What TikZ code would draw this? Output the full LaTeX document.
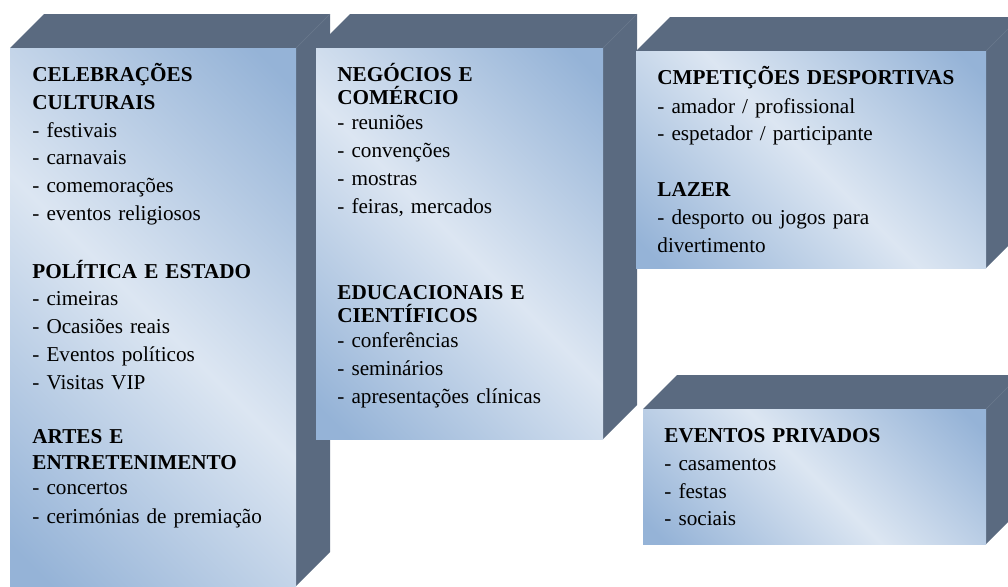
\documentclass[tikz,border=0pt]{standalone}
\usepackage{fontspec}
\setmainfont{Liberation Serif}
\definecolor{sidegray}{HTML}{5A6A80}
\definecolor{faceblue}{HTML}{95B3D7}
\definecolor{facelight}{HTML}{DCE6F2}
\pgfdeclarehorizontalshading{facegrad}{100bp}{color(0bp)=(faceblue); color(18bp)=(faceblue); color(50bp)=(facelight); color(82bp)=(faceblue); color(100bp)=(faceblue)}

\begin{document}
\begin{tikzpicture}[x=0.5pt,y=-0.5pt,
    side/.style={fill=sidegray},
    edge/.style={draw=sidegray!90!white,line width=0.3pt},
    face/.style={shading=facegrad,shading angle=45},
    txt/.style={anchor=base west,inner sep=0pt,text width=#1,align=left,
      font=\fontsize{10.6}{13.9}\selectfont}]
\useasboundingbox (0,0) rectangle (1008,586);
\clip (0,0) rectangle (1008,586);
% box on the left: top and side, then the front
\fill[side] (10,48) -- (44,14) -- (330,14) -- (330,552) -- (296,586) -- (296,48) -- cycle;
\draw[edge] (296,48) -- (330,14);
\fill[face] (10,48) rectangle (296,586);
% box in the middle
\fill[side] (316,48) -- (350,14) -- (637,14) -- (637,405) -- (603,439) -- (603,48) -- cycle;
\draw[edge] (603,48) -- (637,14);
\fill[face] (316,48) rectangle (603,439);
% box at the top right, its side runs off the page
\fill[side] (636,51) -- (670,17) -- (1020,17) -- (1020,234) -- (986,268) -- (986,51) -- cycle;
\draw[edge] (986,51) -- (1020,17);
\fill[face] (636,51) rectangle (986,268);
% box at the bottom right
\fill[side] (643,409) -- (677,375) -- (1020,375) -- (1020,510) -- (986,544) -- (986,409) -- cycle;
\draw[edge] (986,409) -- (1020,375);
\fill[face] (643,409) rectangle (986,544);

\node[txt=130pt] (cultura) at (32,81.5) {\textbf{CELEBRAÇÕES}\\
  \textbf{CULTURAIS}\\
  - festivais\\
  - carnavais\\
  - comemorações\\
  - eventos religiosos\\[15.3pt]
  \textbf{POLÍTICA E ESTADO}\\[-0.5pt]
  - cimeiras\\
  - Ocasiões reais\\
  - Eventos políticos\\
  - Visitas VIP\\[13.4pt]
  \textbf{ARTES E}\\[-1.1pt]
  \textbf{ENTRETENIMENTO}\\[-1.2pt]
  - concertos\\[0.25pt]
  - cerimónias de premiação};
\node[txt=130pt] (negocios) at (337,81.5) {\textbf{NEGÓCIOS E}\\[-2.25pt]
  \textbf{COMÉRCIO}\\[-1.7pt]
  - reuniões\\
  - convenções\\[0.4pt]
  - mostras\\
  - feiras, mercados\\[29.2pt]
  \textbf{EDUCACIONAIS E}\\[-2.7pt]
  \textbf{CIENTÍFICOS}\\[-1.4pt]
  - conferências\\[0.25pt]
  - seminários\\
  - apresentações clínicas};
\node[txt=160pt] (desporto) at (657,84) {\textbf{CMPETIÇÕES DESPORTIVAS}\\[0.6pt]
  - amador / profissional\\
  - espetador / participante\\[14.1pt]
  \textbf{LAZER}\\
  - desporto ou jogos para\\
  divertimento};
\node[txt=160pt] (privados) at (664,442.5) {\textbf{EVENTOS PRIVADOS}\\
  - casamentos\\
  - festas\\
  - sociais};
\end{tikzpicture}
\end{document}
